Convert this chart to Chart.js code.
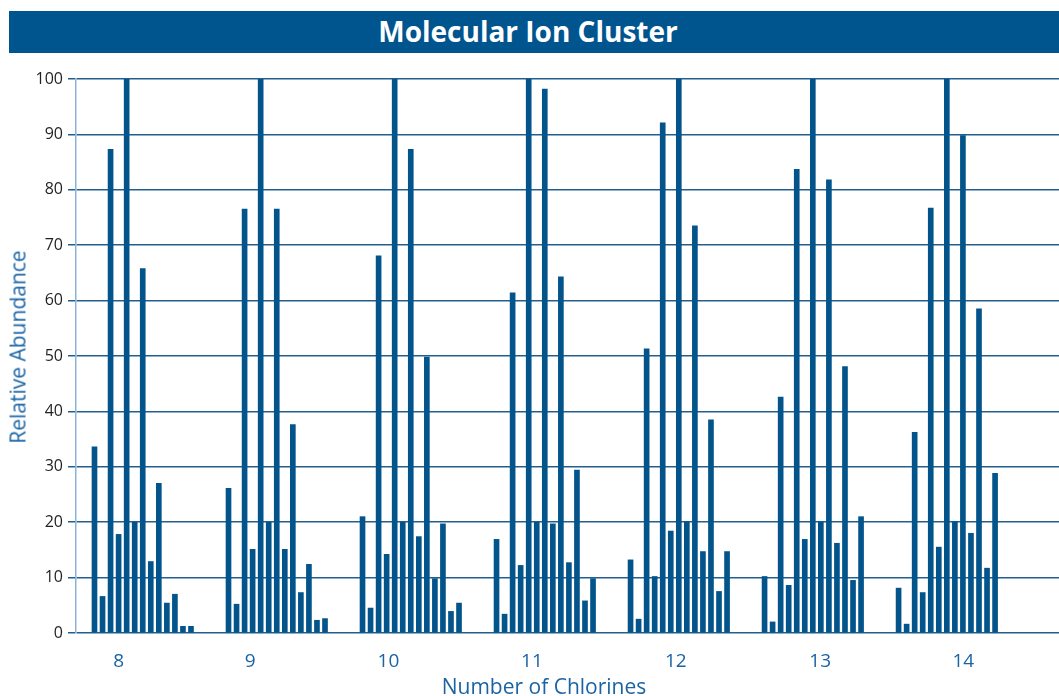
<!DOCTYPE html>
<html>
<head>
<meta charset="utf-8">
<script src="https://cdn.jsdelivr.net/npm/chart.js@4.4.1/dist/chart.umd.min.js"></script>
<style>
  html, body { margin: 0; padding: 0; background: #ffffff; width: 1059px; height: 696px; overflow: hidden; }
  #wrap { position: absolute; left: 0; top: 0; width: 1059px; height: 696px; }
  #titlebar { position: absolute; left: 9px; top: 11px; width: 1050px; height: 42px; background: #00558f;
    display: flex; align-items: center; justify-content: center; }
  #titlebar span { color: #ffffff; font-family: "Open Sans", sans-serif; font-weight: 700; font-size: 28px;
    line-height: 1; position: relative; left: -6px; top: -1px; }
  .axtitle { position: absolute; color: #1a64a4; font-family: "Open Sans", sans-serif; font-size: 21px;
    line-height: 1; white-space: nowrap; }
  #xtitle { left: 544px; top: 686px; transform: translate(-50%, -50%); }
  #ytitle { left: 18px; top: 347px; transform: translate(-50%, -50%) rotate(-90deg); }
</style>
</head>
<body>
<div id="wrap"><canvas id="chart" width="1059" height="696"></canvas></div>
<div id="titlebar"><span>Molecular Ion Cluster</span></div>
<div class="axtitle" id="xtitle">Number of Chlorines</div>
<div class="axtitle" id="ytitle">Relative Abundance</div>
<script>
// ---- data ----
const chlorineCounts = [8, 9, 10, 11, 12, 13, 14];
const tickLabels = ['8', '9', '10', '11', '12', '13', '14'];
// tick positions on the m/z-offset axis (isotope peaks 2 units apart)
const tickPositions = [6.0, 38.7, 73.1, 108.8, 144.6, 180.5, 216.1];

const cl8  = [33.6, 6.6, 87.3, 17.8, 100, 20.0, 65.8, 12.9, 27.0, 5.4, 7.0, 1.2, 1.2];
const cl9  = [26.1, 5.2, 76.5, 15.1, 100, 20.0, 76.5, 15.1, 37.6, 7.3, 12.4, 2.3, 2.6];
const cl10 = [21.0, 4.5, 68.1, 14.2, 100, 20.0, 87.3, 17.4, 49.8, 9.8, 19.7, 3.9, 5.4];
const cl11 = [16.9, 3.4, 61.4, 12.2, 100, 20.0, 98.2, 19.7, 64.3, 12.7, 29.4, 5.8, 9.8];
const cl12 = [13.2, 2.5, 51.3, 10.2, 92.1, 18.4, 100, 20.1, 73.5, 14.7, 38.5, 7.5, 14.7];
const cl13 = [10.2, 2.0, 42.6, 8.6, 83.7, 16.9, 100, 20.1, 81.8, 16.2, 48.1, 9.5, 21.0];
const cl14 = [8.1, 1.6, 36.2, 7.3, 76.7, 15.5, 100, 20.1, 89.8, 18.0, 58.5, 11.7, 28.8];

const clusters = [cl8, cl9, cl10, cl11, cl12, cl13, cl14];
const clusterSpacing = 100 / 3;   // axis units between successive chlorine clusters
const peakSpacing = 2;            // isotope peak spacing

const points = [];
clusters.forEach((vals, ci) => {
  vals.forEach((v, k) => {
    points.push({ x: ci * clusterSpacing + k * peakSpacing, y: v });
  });
});

const blue = '#02548b';
const textBlue = '#1a64a4';

new Chart(document.getElementById('chart'), {
  type: 'bar',
  data: {
    datasets: [{
      data: points,
      backgroundColor: blue,
      borderWidth: 0,
      barThickness: 5
    }]
  },
  options: {
    responsive: false,
    animation: false,
    layout: { padding: { top: 79, right: 0, bottom: 0, left: 0 } },
    plugins: { legend: { display: false }, tooltip: { enabled: false }, title: { display: false } },
    scales: {
      x: {
        type: 'linear',
        offset: false,
        min: -4.6,
        max: 239.9,
        afterBuildTicks(scale) {
          scale.ticks = tickPositions.map(v => ({ value: v }));
        },
        afterFit(scale) { scale.height = 63; },
        grid: { display: false, drawTicks: false, offset: false },
        border: { display: false },
        ticks: {
          autoSkip: false,
          maxRotation: 0,
          padding: 17,
          color: textBlue,
          font: { family: '"Open Sans", sans-serif', size: 19 },
          callback(value, index) { return tickLabels[index]; }
        },
        title: { display: false }
      },
      y: {
        min: 0,
        max: 100,
        afterFit(scale) { scale.width = 76; },
        ticks: {
          stepSize: 10,
          padding: 5,
          color: '#231f20',
          font: { family: '"Open Sans", sans-serif', size: 16 }
        },
        grid: { color: '#235f8e', lineWidth: 1.5, tickLength: 8, drawTicks: true },
        border: { display: true, color: '#8cb3d5', width: 1.5 },
        title: { display: false }
      }
    }
  }
});
</script>
</body>
</html>
